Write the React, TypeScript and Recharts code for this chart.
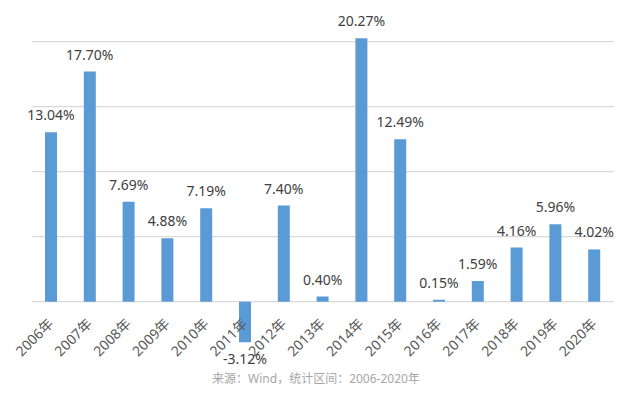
import React from "react";
import { BarChart, Bar, XAxis, YAxis, CartesianGrid, LabelList } from "recharts";

const years = [
  "2006年", "2007年", "2008年", "2009年", "2010年", "2011年", "2012年", "2013年",
  "2014年", "2015年", "2016年", "2017年", "2018年", "2019年", "2020年",
];
const growth = [13.04, 17.7, 7.69, 4.88, 7.19, -3.12, 7.4, 0.4, 20.27, 12.49, 0.15, 1.59, 4.16, 5.96, 4.02];
const gridValues = [0, 5, 10, 15, 20];
const source = "来源：Wind，统计区间：2006-2020年";

const data = years.map((year, i) => ({ year, value: growth[i] }));

const FONT = '"Noto Sans", "Noto Sans CJK SC", sans-serif';

// the axis sits at the bottom of the plot (-5%), labels are pulled up to the 0 line
function YearTick(props: any) {
  const { x, y, payload } = props;
  return (
    <g transform={`translate(${x - 4},${y - 49}) rotate(-45)`}>
      <text x={0} y={0} dy="0.7em" textAnchor="end" fill="#595959" fontSize={14} fontFamily={FONT}>
        {payload.value}
      </text>
    </g>
  );
}

export default function App() {
  return (
    <div style={{ position: "absolute", left: 0, top: 0, width: 640, height: 393, background: "#fff" }}>
      <BarChart
        width={640}
        height={393}
        data={data}
        margin={{ top: 28.7, right: 26, bottom: 0.3, left: 32 }}
        barSize={12}
      >
        <CartesianGrid vertical={false} stroke="#d9d9d9" strokeWidth={1.3} horizontalValues={gridValues} />
        <XAxis
          dataKey="year"
          height={26}
          axisLine={false}
          tickLine={false}
          tickSize={0}
          tickMargin={0}
          interval={0}
          tick={YearTick}
        />
        <YAxis hide domain={[-5, 21]} ticks={gridValues} />
        <Bar dataKey="value" fill="#5b9bd5" isAnimationActive={false}>
          <LabelList
            dataKey="value"
            position="top"
            offset={12}
            formatter={(v: any) => `${Number(v).toFixed(2)}%`}
            style={{ fill: "#404040", fontSize: 14, fontFamily: FONT }}
          />
        </Bar>
      </BarChart>
      <div
        style={{
          position: "absolute",
          left: 0,
          width: 632,
          top: 369,
          textAlign: "center",
          color: "#a6a6a6",
          fontSize: 12,
          fontFamily: FONT,
        }}
      >
        {source}
      </div>
    </div>
  );
}
